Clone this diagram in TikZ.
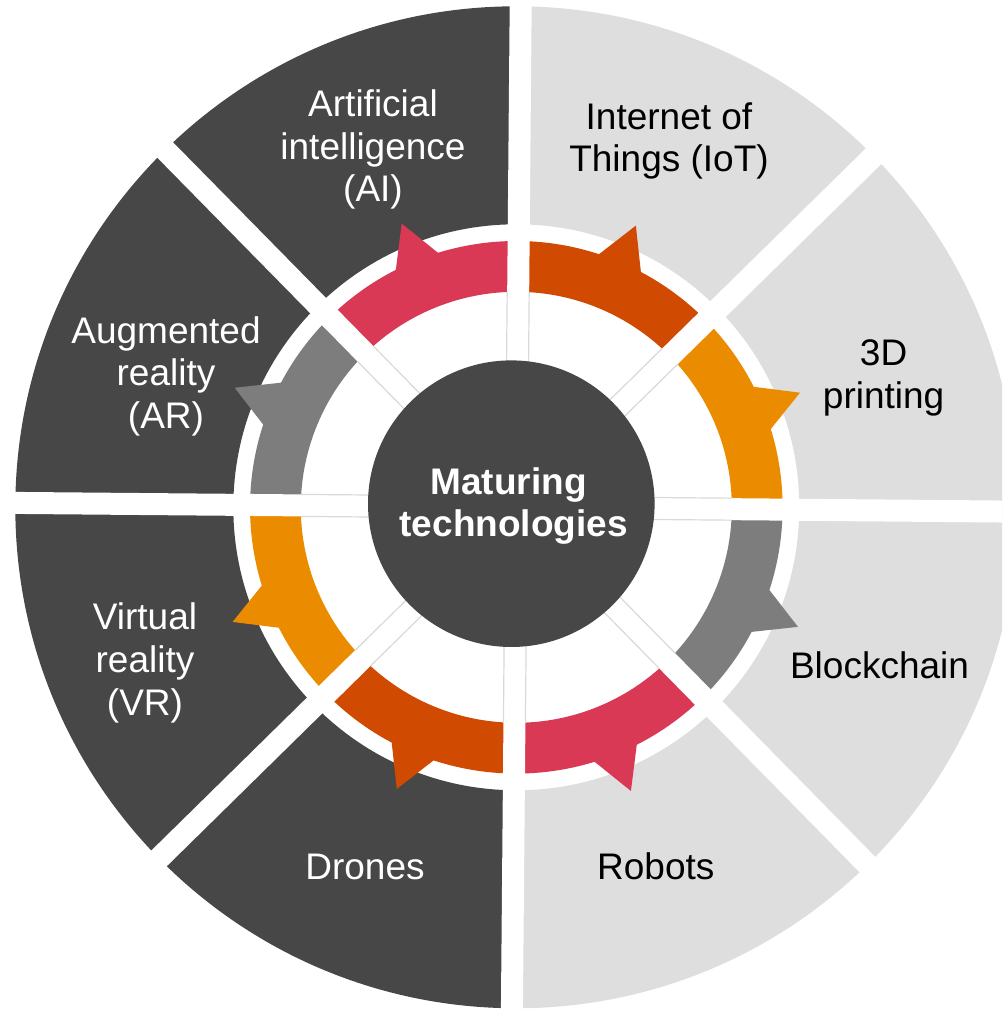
\documentclass[tikz,border=0pt]{standalone}
\usepackage{fontspec}
\setmainfont{Liberation Sans}
\definecolor{segdark}{HTML}{474747}
\definecolor{seglight}{HTML}{DEDEDE}
\definecolor{rose}{HTML}{D93954}
\definecolor{pwcorange}{HTML}{D04A02}
\definecolor{tangerine}{HTML}{EB8C00}
\definecolor{midgrey}{HTML}{7D7D7D}
\definecolor{hairline}{HTML}{D9D9D9}
\newcommand\lblfont{\fontsize{18.5}{21.3}\selectfont}
\newcommand\lblstack[1]{\begin{tabular}[t]{@{}c@{}}#1\end{tabular}}
\begin{document}
\begin{tikzpicture}[x=0.5pt,y=0.5pt,
  lbl/.style={inner sep=0pt, anchor=base, font=\lblfont},
  darklbl/.style={lbl, text=white},
  lightlbl/.style={lbl, text=black},
  gapbar/.style={fill=white},
  gapline/.style={draw=hairline, line width=0.6pt}]
\useasboundingbox (0,0) rectangle (1002,1010);
\clip (0,0) rectangle (1002,1010);
\begin{scope}[shift={(516.3,502.7)}, rotate=-0.5]
  % outer ring: dark left half, light right half
  \fill[segdark] (90:283) -- (90:501) arc[start angle=90, end angle=270, radius=501]
     -- (270:283) arc[start angle=270, end angle=90, radius=283] -- cycle;
  \fill[seglight] (-90:283) -- (-90:501) arc[start angle=-90, end angle=90, radius=501]
     -- (90:283) arc[start angle=90, end angle=-90, radius=283] -- cycle;
  % coloured ring segments with outward arrowheads
  \foreach \a/\col in {0/tangerine,45/pwcorange,90/rose,135/midgrey,180/tangerine,225/pwcorange,270/rose,315/midgrey}{
    \fill[\col] (\a:215.5) -- (\a:266.3) arc[start angle=\a, end angle=\a+17.6, radius=266.3]
      -- ({\a+22.5}:306) -- ({\a+27.4}:266.3) arc[start angle=\a+27.4, end angle=\a+45, radius=266.3]
      -- ({\a+45}:215.5) arc[start angle=\a+45, end angle=\a, radius=215.5] -- cycle;
  }
  % white gaps and thin grey edges of the inner sectors
  \foreach \g in {0,45,90,135}{
    \begin{scope}[rotate=\g]
      \fill[gapbar] (-530,-11) rectangle (530,11);
      \draw[gapline] (-215.2,11) -- (215.2,11) (-215.2,-11) -- (215.2,-11);
    \end{scope}
  }
\end{scope}
\node[circle, fill=segdark, minimum size=143.3pt, inner sep=0pt] (hub) at (511.3,506.3) {};
\node[darklbl, font=\lblfont\bfseries] (hubtext) at (513.7,515.7) {\lblstack{Maturing\kern0.278em\\technologies}};
\node[darklbl] (ai) at (373,893.3) {\lblstack{Artificial\\intelligence\\(AI)}};
\node[lightlbl] (iot) at (669,880.7) {\lblstack{Internet of\\Things (IoT)}};
\node[lightlbl] (print) at (883.6,644.4) {\lblstack{3D\\printing}};
\node[lightlbl] (chain) at (879.5,331.7) {Blockchain};
\node[lightlbl] (robots) at (655.8,130) {Robots};
\node[darklbl] (drones) at (365,130) {Drones};
\node[darklbl] (vr) at (145,380) {\lblstack{Virtual\\reality\\(VR)}};
\node[darklbl] (ar) at (166,666.7) {\lblstack{Augmented\\reality\\(AR)}};
\end{tikzpicture}
\end{document}
